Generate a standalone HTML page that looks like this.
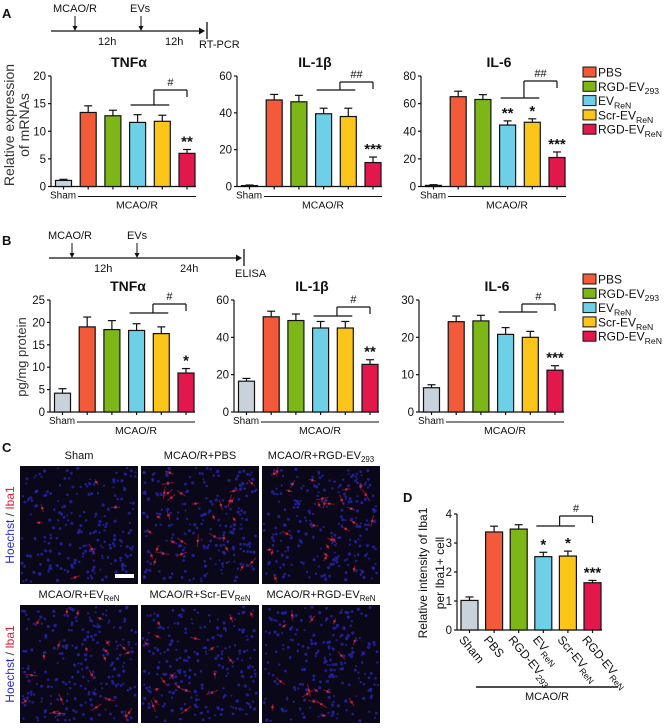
<!DOCTYPE html>
<html><head><meta charset="utf-8">
<style>
html,body{margin:0;padding:0;background:#fff;}
svg{display:block;font-family:"Liberation Sans",sans-serif;}
</style></head>
<body>
<svg id="fig" width="669" height="728" viewBox="0 0 669 728" xmlns="http://www.w3.org/2000/svg"></svg>
<script>
// ---------- data ----------
const categories = ['Sham','PBS','RGD-EV293','EVReN','Scr-EVReN','RGD-EVReN'];
const aTnfVals = [1.1, 13.4, 12.8, 11.6, 11.8, 6.0];
const aTnfErr  = [0.2, 1.2, 1.0, 1.4, 1.1, 0.7];
const aIl1Vals = [0.5, 47, 46, 39.5, 38, 13];
const aIl1Err  = [0.3, 3, 3.5, 3, 4.5, 3];
const aIl6Vals = [0.8, 65, 63, 44.5, 46.5, 21];
const aIl6Err  = [0.5, 4, 3.5, 3, 2.5, 4];
const bTnfVals = [4.2, 19, 18.4, 18.2, 17.5, 8.7];
const bTnfErr  = [1.0, 2.2, 2.0, 1.5, 1.5, 1.0];
const bIl1Vals = [16.5, 51, 49, 45, 45, 25.5];
const bIl1Err  = [1.5, 3, 3.5, 3.5, 3.5, 2.5];
const bIl6Vals = [6.5, 24.2, 24.4, 20.8, 20.0, 11.2];
const bIl6Err  = [0.8, 1.5, 1.5, 1.8, 1.6, 1.2];
const dVals = [1.02, 3.38, 3.48, 2.53, 2.55, 1.63];
const dErr  = [0.12, 0.2, 0.15, 0.15, 0.17, 0.08];
const aTnfStars = ['', '', '', '', '', '**'];
const aIl1Stars = ['', '', '', '', '', '***'];
const aIl6Stars = ['', '', '', '**', '*', '***'];
const bTnfStars = ['', '', '', '', '', '*'];
const bIl1Stars = ['', '', '', '', '', '**'];
const bIl6Stars = ['', '', '', '', '', '***'];
const dStars = ['', '', '', '*', '*', '***'];
const aTnfTicks = [0, 5, 10, 15, 20];
const aIl1Ticks = [0, 20, 40, 60];
const aIl6Ticks = [0, 20, 40, 60, 80];
const bTnfTicks = [0, 5, 10, 15, 20, 25];
const bIl1Ticks = [0, 20, 40, 60];
const bIl6Ticks = [0, 10, 20, 30];
const dTicks = [0, 1, 2, 3, 4];

const fills = ['#c9d1dc','#f25a3a','#7cb617','#6dd0e6','#fcc51a','#e2174b'];
const NS = 'http://www.w3.org/2000/svg';
const svg = document.getElementById('fig');

function mk(tag, attrs, parent, name) {
  const el = document.createElementNS(NS, tag);
  for (const k in attrs) el.setAttribute(k, attrs[k]);
  
  
  (parent || svg).appendChild(el);
  return el;
}
function txt(x, y, s, size, parent, name, extra) {
  const a = Object.assign({x: x, y: y, 'font-size': size, fill: '#111'}, extra || {});
  const t = mk('text', a, parent, name);
  t.textContent = s;
  return t;
}
function subTxt(x, y, main, sub, size, parent, name, extra) {
  const a = Object.assign({x: x, y: y, 'font-size': size, fill: '#111'}, extra || {});
  const t = mk('text', a, parent, name);
  const t1 = document.createElementNS(NS, 'tspan');
  t1.textContent = main;
  t.appendChild(t1);
  if (sub) {
    const t2 = document.createElementNS(NS, 'tspan');
    t2.setAttribute('font-size', size * 0.72);
    t2.setAttribute('dy', size * 0.28);
    t2.textContent = sub;
    t.appendChild(t2);
  }
  return t;
}
function splitCat(c) {
  if (c.endsWith('293')) return [c.slice(0, -3), '293'];
  if (c.endsWith('ReN')) return [c.slice(0, -3), 'ReN'];
  return [c, ''];
}
function line(x1, y1, x2, y2, parent, name, w) {
  return mk('line', {x1: x1, y1: y1, x2: x2, y2: y2, stroke: '#111', 'stroke-width': w || 1.2}, parent, name);
}

function barChart(o) {
  const g = mk('g', {}, svg, o.name);
  const span = o.y0 - o.yTop;
  const max = o.ticks[o.ticks.length - 1];
  const ys = v => o.y0 - v / max * span;
  const xs = i => o.ax + 12.5 + i * o.step;
  const bw = o.bw;
  line(o.ax, o.y0, o.ax, o.yTop, g, 'y-axis');
  line(o.ax, o.y0, xs(5) + bw / 2 + 1, o.y0, g, 'x-axis');
  o.ticks.forEach(t => {
    line(o.ax - 3, ys(t), o.ax, ys(t), g, 'y-tick');
    txt(o.ax - 5, ys(t) + 4, String(t), 11.5, g, 'y-tick-label', {'text-anchor': 'end'});
  });
  o.vals.forEach((v, i) => {
    const x = xs(i);
    const top = ys(v);
    const ey = ys(v + o.errs[i]);
    line(x, top, x, ey, g, 'error-bar-' + categories[i].toLowerCase());
    line(x - 4, ey, x + 4, ey, g, 'error-cap-' + categories[i].toLowerCase());
    mk('rect', {x: x - bw / 2, y: top, width: bw, height: o.y0 - top, fill: fills[i], stroke: '#111', 'stroke-width': 1.2}, g, 'bar-' + categories[i].toLowerCase());
    line(x, o.y0, x, o.y0 + 3, g, 'x-tick');
    if (o.stars[i]) txt(x, ey - 3, o.stars[i], 15, g, 'significance-stars', {'text-anchor': 'middle', 'font-weight': 'bold'});
  });
  if (o.title) txt((o.ax + xs(5)) / 2 + 10, o.titleY, o.title, 14, g, 'chart-title', {'text-anchor': 'middle', 'font-weight': 'bold'});
  const bl = xs(3) - 7, br = xs(4) + 7, mid = (xs(3) + xs(4)) / 2 + 4;
  line(bl, o.br.line, br, o.br.line, g, 'comparison-bracket');
  line(mid, o.br.line, mid, o.br.top, g, 'comparison-bracket');
  line(mid, o.br.top, xs(5), o.br.top, g, 'comparison-bracket');
  line(xs(5), o.br.top, xs(5), o.br.top + 7, g, 'comparison-bracket');
  txt((mid + xs(5)) / 2, o.br.top - 4, o.br.mark, 11, g, 'hash-mark', {'text-anchor': 'middle'});
  if (o.under) {
    txt(o.ax - 1, o.y0 + 12, 'Sham', 10, g, 'sham-label');
    line(o.ax + 27, o.y0 + 10, xs(5) + bw / 2 + 1, o.y0 + 10, g, 'mcaor-group-line', 1);
    txt(o.ax + 86, o.y0 + 22, 'MCAO/R', 10.5, g, 'mcaor-group-label', {'text-anchor': 'middle'});
  }
  return {g: g, xs: xs};
}

const step = 24.7, bw = 16;
barChart({name:'chart-a-tnfa', vals:aTnfVals, errs:aTnfErr, stars:aTnfStars, ticks:aTnfTicks, ax:51, y0:186.5, yTop:76, step:step, bw:bw, title:'TNFα', titleY:67, br:{line:105, top:90, mark:'#'}, under:true});
barChart({name:'chart-a-il1b', vals:aIl1Vals, errs:aIl1Err, stars:aIl1Stars, ticks:aIl1Ticks, ax:237, y0:186.5, yTop:76, step:step, bw:bw, title:'IL-1β', titleY:67, br:{line:90, top:82, mark:'##'}, under:true});
barChart({name:'chart-a-il6', vals:aIl6Vals, errs:aIl6Err, stars:aIl6Stars, ticks:aIl6Ticks, ax:421, y0:186.5, yTop:76, step:step, bw:bw, title:'IL-6', titleY:67, br:{line:98, top:81, mark:'##'}, under:true});
barChart({name:'chart-b-tnfa', vals:bTnfVals, errs:bTnfErr, stars:bTnfStars, ticks:bTnfTicks, ax:50, y0:412, yTop:300, step:step, bw:bw, title:'TNFα', titleY:291, br:{line:313, top:304, mark:'#'}, under:true});
barChart({name:'chart-b-il1b', vals:bIl1Vals, errs:bIl1Err, stars:bIl1Stars, ticks:bIl1Ticks, ax:234, y0:412, yTop:300, step:step, bw:bw, title:'IL-1β', titleY:291, br:{line:316, top:307, mark:'#'}, under:true});
barChart({name:'chart-b-il6', vals:bIl6Vals, errs:bIl6Err, stars:bIl6Stars, ticks:bIl6Ticks, ax:419, y0:412, yTop:300, step:step, bw:bw, title:'IL-6', titleY:291, br:{line:312, top:304, mark:'#'}, under:true});
const dc = barChart({name:'chart-d-iba1', vals:dVals, errs:dErr, stars:dStars, ticks:dTicks, ax:457, y0:630, yTop:514, step:24.6, bw:17, title:'', titleY:0, br:{line:526, top:516, mark:'#'}, under:false});
categories.forEach((c, i) => {
  const p = splitCat(c);
  const x = dc.xs(i) - 11, y = 640;
  subTxt(x, y, p[0], p[1], 12, dc.g, 'x-label-' + c.toLowerCase(), {transform: 'rotate(50 ' + x + ' ' + y + ')'});
});
line(476, 687, 618, 687, dc.g, 'mcaor-group-line', 1.5);
txt(547, 700, 'MCAO/R', 11, dc.g, 'mcaor-group-label', {'text-anchor': 'middle'});
txt(427, 573, 'Relative intensity of Iba1', 12, dc.g, 'y-axis-title', {'text-anchor': 'middle', transform: 'rotate(-90 427 573)'});
txt(444, 573, 'per Iba1+ cell', 12, dc.g, 'y-axis-title', {'text-anchor': 'middle', transform: 'rotate(-90 444 573)'});

txt(14, 125, 'Relative expression', 14, svg, 'y-axis-title-a', {'text-anchor': 'middle', transform: 'rotate(-90 14 125)', fill: '#333'});
txt(29, 125, 'of mRNAs', 14, svg, 'y-axis-title-a', {'text-anchor': 'middle', transform: 'rotate(-90 29 125)', fill: '#333'});
txt(26, 357, 'pg/mg protein', 13, svg, 'y-axis-title-b', {'text-anchor': 'middle', transform: 'rotate(-90 26 357)', fill: '#333'});

txt(2, 18, 'A', 13, svg, 'panel-label-a', {'font-weight': 'bold'});
txt(2, 245, 'B', 13, svg, 'panel-label-b', {'font-weight': 'bold'});
txt(2, 452, 'C', 13, svg, 'panel-label-c', {'font-weight': 'bold'});
txt(403, 502, 'D', 13, svg, 'panel-label-d', {'font-weight': 'bold'});

function timeline(o) {
  const g = mk('g', {}, svg, o.name);
  line(o.x1, o.y, o.x2 - 5, o.y, g, 'timeline-axis', 1.3);
  mk('polygon', {points: (o.x2 - 6) + ',' + (o.y - 3.5) + ' ' + o.x2 + ',' + o.y + ' ' + (o.x2 - 6) + ',' + (o.y + 3.5), fill: '#111'}, g, 'timeline-arrowhead');
  line(o.x2 + 2, o.y - 9, o.x2 + 2, o.y + 8, g, 'timeline-end', 1.3);
  [[o.a1, 'MCAO/R', o.l1], [o.a2, 'EVs', o.l2]].forEach(a => {
    line(a[0], o.y - 15, a[0], o.y - 4, g, 'event-arrow', 1);
    mk('polygon', {points: (a[0] - 2.5) + ',' + (o.y - 5) + ' ' + (a[0] + 2.5) + ',' + (o.y - 5) + ' ' + a[0] + ',' + o.y, fill: '#111'}, g, 'event-arrowhead');
    txt(a[2], o.y - 19, a[1], 11, g, 'event-label');
  });
  txt(o.h1, o.y + 14, '12h', 11, g, 'interval-label');
  txt(o.h2, o.y + 14, o.h2t, 11, g, 'interval-label');
  txt(o.ex, o.y + o.ey, o.end, 11, g, 'endpoint-label');
}
timeline({name:'timeline-a', x1:51, x2:205, y:31, a1:75, a2:141, l1:53, l2:130, h1:98, h2:165, h2t:'12h', ex:199, ey:17, end:'RT-PCR'});
timeline({name:'timeline-b', x1:49, x2:242, y:258, a1:72, a2:137, l1:48, l2:127, h1:94, h2:180, h2t:'24h', ex:235, ey:19, end:'ELISA'});

function legend(y0, name) {
  const g = mk('g', {}, svg, name);
  categories.slice(1).forEach((c, i) => {
    const y = y0 + i * 14.3;
    mk('rect', {x: 583, y: y - 5, width: 13, height: 10, fill: fills[i + 1], stroke: '#111', 'stroke-width': 1}, g, 'legend-swatch');
    const p = splitCat(c);
    subTxt(598, y + 4.5, p[0], p[1], 12, g, 'legend-entry');
  });
}
legend(72, 'legend-a');
legend(279, 'legend-b');

let seed = 7;
function rnd() { seed = (seed * 16807) % 2147483647; return seed / 2147483647; }
const imgX = [20, 141, 262], imgY = [466, 605];
const redCounts = [[6, 30, 28], [22, 18, 16]];
const titles = [[['Sham',''], ['MCAO/R+PBS',''], ['MCAO/R+RGD-EV','293']], [['MCAO/R+EV','ReN'], ['MCAO/R+Scr-EV','ReN'], ['MCAO/R+RGD-EV','ReN']]];
for (let r = 0; r < 2; r++) for (let c = 0; c < 3; c++) {
  const g = mk('g', {}, svg, 'micrograph-' + (r * 3 + c + 1));
  const x0 = imgX[c], y0 = imgY[r], w = 118, h = 118;
  mk('rect', {x: x0, y: y0, width: w, height: h, fill: '#0a0818'}, g, 'micrograph-background');
  for (let k = 0; k < 220; k++) {
    mk('circle', {cx: x0 + 2 + rnd() * (w - 4), cy: y0 + 2 + rnd() * (h - 4), r: 1.0 + rnd() * 0.7, fill: '#2424a8', opacity: 0.8}, g, 'nucleus');
  }
  for (let k = 0; k < redCounts[r][c]; k++) {
    const cx = x0 + 5 + rnd() * (w - 10), cy = y0 + 5 + rnd() * (h - 10);
    const a = rnd() * 6.28, l = 2.5 + rnd() * 4;
    mk('line', {x1: cx - Math.cos(a) * l, y1: cy - Math.sin(a) * l, x2: cx + Math.cos(a) * l, y2: cy + Math.sin(a) * l, stroke: '#a8182e', 'stroke-width': 1, opacity: 0.75}, g, 'microglia-process');
    mk('circle', {cx: cx, cy: cy, r: 1.3, fill: '#d02a50', opacity: 0.85}, g, 'microglia-body');
  }
  const t = titles[r][c];
  subTxt(x0 + w / 2, y0 - 7, t[0], t[1], 11, svg, 'micrograph-title', {'text-anchor': 'middle'});
}
mk('rect', {x: 115, y: 574, width: 19, height: 4, fill: '#fff'}, svg, 'scale-bar');
[525, 664].forEach((cy, i) => {
  const t = mk('text', {x: 14, y: cy, 'font-size': 12, 'text-anchor': 'middle', transform: 'rotate(-90 14 ' + cy + ')'}, svg, 'stain-label-' + (i + 1));
  const a = document.createElementNS(NS, 'tspan'); a.setAttribute('fill', '#2a2ad0'); a.textContent = 'Hoechst';
  const b = document.createElementNS(NS, 'tspan'); b.setAttribute('fill', '#444'); b.textContent = ' / ';
  const c2 = document.createElementNS(NS, 'tspan'); c2.setAttribute('fill', '#e0203a'); c2.textContent = 'Iba1';
  t.appendChild(a); t.appendChild(b); t.appendChild(c2);
});
</script>
</body></html>
